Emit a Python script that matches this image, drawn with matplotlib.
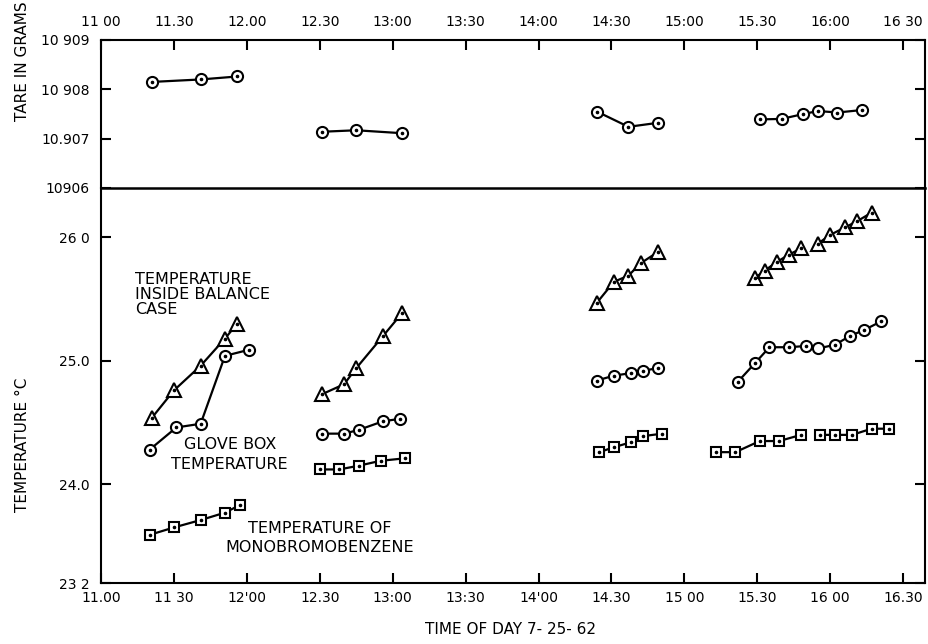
import numpy as np
import matplotlib
matplotlib.use('Agg')
import matplotlib.pyplot as plt

# tare readings, one list per run of weighings
tareTimes = [['11:21', '11:41', '11:56'],
             ['12:31', '12:45', '13:04'],
             ['14:24', '14:37', '14:49'],
             ['15:31', '15:40', '15:49', '15:55', '16:03', '16:13']]
tareGrams = [[10908.15, 10908.20, 10908.26],
             [10907.14, 10907.17, 10907.11],
             [10907.55, 10907.24, 10907.32],
             [10907.39, 10907.40, 10907.50, 10907.56, 10907.53, 10907.58]]

# temperature inside balance case (triangles)
caseTimes = [['11:21', '11:30', '11:41', '11:51', '11:56'],
             ['12:31', '12:40', '12:45', '12:56', '13:04'],
             ['14:24', '14:31', '14:37', '14:42', '14:49'],
             ['15:29', '15:33', '15:38', '15:43', '15:48'],
             ['15:55', '16:00', '16:06', '16:11', '16:17']]
caseTemp = [[24.54, 24.76, 24.96, 25.18, 25.30],
            [24.73, 24.81, 24.94, 25.20, 25.39],
            [25.47, 25.64, 25.69, 25.79, 25.88],
            [25.67, 25.73, 25.80, 25.86, 25.91],
            [25.95, 26.02, 26.08, 26.13, 26.20]]

# glove box temperature (circles)
boxTimes = [['11:20', '11:31', '11:41', '11:51', '12:01'],
            ['12:31', '12:40', '12:46', '12:56', '13:03'],
            ['14:24', '14:31', '14:38', '14:43', '14:49'],
            ['15:22', '15:29', '15:35', '15:43', '15:50'],
            ['15:55', '16:02', '16:08', '16:14', '16:21']]
boxTemp = [[24.28, 24.46, 24.49, 25.04, 25.09],
           [24.41, 24.41, 24.44, 24.51, 24.53],
           [24.84, 24.88, 24.90, 24.92, 24.94],
           [24.83, 24.98, 25.11, 25.11, 25.12],
           [25.10, 25.13, 25.20, 25.25, 25.32]]
# (run, point) of the circle printed without its centre dot
boxNoDot = [(4, 0)]

# temperature of monobromobenzene (squares)
mbbTimes = [['11:20', '11:30', '11:41', '11:51', '11:57'],
            ['12:30', '12:38', '12:46', '12:55', '13:05'],
            ['14:25', '14:31', '14:38', '14:43', '14:51'],
            ['15:13', '15:21', '15:31', '15:39', '15:48'],
            ['15:56', '16:02', '16:09', '16:17', '16:24']]
mbbTemp = [[23.59, 23.65, 23.71, 23.77, 23.83],
           [24.12, 24.12, 24.15, 24.19, 24.21],
           [24.26, 24.30, 24.34, 24.39, 24.41],
           [24.26, 24.26, 24.35, 24.35, 24.40],
           [24.40, 24.40, 24.40, 24.45, 24.45]]

tickTimes = ['11:00', '11:30', '12:00', '12:30', '13:00', '13:30',
             '14:00', '14:30', '15:00', '15:30', '16:00', '16:30']
topTickLabels = ['11 00', '11.30', '12.00', '12.30', '13:00', '13:30',
                 '14:00', '14:30', '15:00', '15.30', '16:00', '16 30']
bottomTickLabels = ['11.00', '11 30', "12'00", '12.30', '13:00', '13:30',
                    "14'00", '14.30', '15 00', '15.30', '16 00', '16.30']
tareTicks = [10906, 10907, 10908, 10909]
tareTickLabels = ['10906', '10.907', '10 908', '10 909']
tempTicks = [23.2, 24.0, 25.0, 26.0]
tempTickLabels = ['23 2', '24.0', '25.0', '26 0']


def minutes(t):
    # minutes after 11:00
    h, m = t.split(':')
    return (int(h) - 11) * 60 + int(m)


def drawRuns(ax, times, values, marker, ms, noDot=()):
    for i, (t, v) in enumerate(zip(times, values)):
        x = [minutes(s) for s in t]
        ax.plot(x, v, color='black', lw=1.6, marker=marker, ms=ms,
                mfc='white', mec='black', mew=1.5, zorder=3)
        keep = [j for j in range(len(x)) if (i, j) not in noDot]
        ax.plot([x[j] for j in keep], [v[j] for j in keep], ls='none',
                marker='o', ms=1.6, color='black', zorder=4)


def main():
    plt.rcParams['font.family'] = ['DejaVu Sans']
    fig = plt.figure(figsize=(9.29, 6.44), dpi=100)
    axTop = fig.add_axes([0.1087, 0.7081, 0.887, 0.2298])
    axBot = fig.add_axes([0.1087, 0.0947, 0.887, 0.6134])

    xt = [minutes(s) for s in tickTimes]
    for ax in (axTop, axBot):
        ax.set_xlim(0, 339)
        for sp in ax.spines.values():
            sp.set_linewidth(1.5)
        ax.tick_params(direction='in', length=7, width=1.5, labelsize=10,
                       left=True, right=True, labelright=False)
        ax.set_xticks(xt)

    # tare panel
    drawRuns(axTop, tareTimes, tareGrams, 'o', 8)
    axTop.set_ylim(10906, 10909)
    axTop.set_yticks(tareTicks)
    axTop.set_yticklabels(tareTickLabels)
    axTop.set_xticklabels(topTickLabels)
    axTop.tick_params(axis='x', top=True, bottom=False, labeltop=True,
                      labelbottom=False, pad=8)
    axTop.tick_params(axis='y', pad=8)
    axTop.spines['bottom'].set_visible(False)

    # temperature panel, its top spine is the divider line
    drawRuns(axBot, caseTimes, caseTemp, '^', 9.5)
    drawRuns(axBot, boxTimes, boxTemp, 'o', 8, boxNoDot)
    drawRuns(axBot, mbbTimes, mbbTemp, 's', 7.5)
    axBot.set_ylim(23.2, 26.4)
    axBot.set_yticks(tempTicks)
    axBot.set_yticklabels(tempTickLabels)
    axBot.set_xticklabels(bottomTickLabels)
    axBot.tick_params(axis='x', top=False, bottom=True, pad=6)
    axBot.tick_params(axis='y', pad=8)
    axBot.spines['top'].set_linewidth(1.8)

    axBot.text(14, 25.72, 'TEMPERATURE\nINSIDE BALANCE\nCASE', ha='left',
               va='top', fontsize=11.5, linespacing=1.0)
    axBot.text(53, 24.38, 'GLOVE BOX\nTEMPERATURE', ha='center', va='top',
               fontsize=11.5, linespacing=1.35)
    axBot.text(90, 23.70, 'TEMPERATURE OF\nMONOBROMOBENZENE', ha='center',
               va='top', fontsize=11.5, linespacing=1.35)

    fig.text(0.024, 0.905, 'TARE IN GRAMS', rotation=90, ha='center',
             va='center', fontsize=11)
    fig.text(0.024, 0.31, 'TEMPERATURE \u00b0C', rotation=90, ha='center',
             va='center', fontsize=11)
    fig.text(0.55, 0.022, 'TIME OF DAY 7- 25- 62', ha='center', va='center',
             fontsize=11)

    fig.savefig('out.png', dpi=100)


if __name__ == "__main__":
    main()
